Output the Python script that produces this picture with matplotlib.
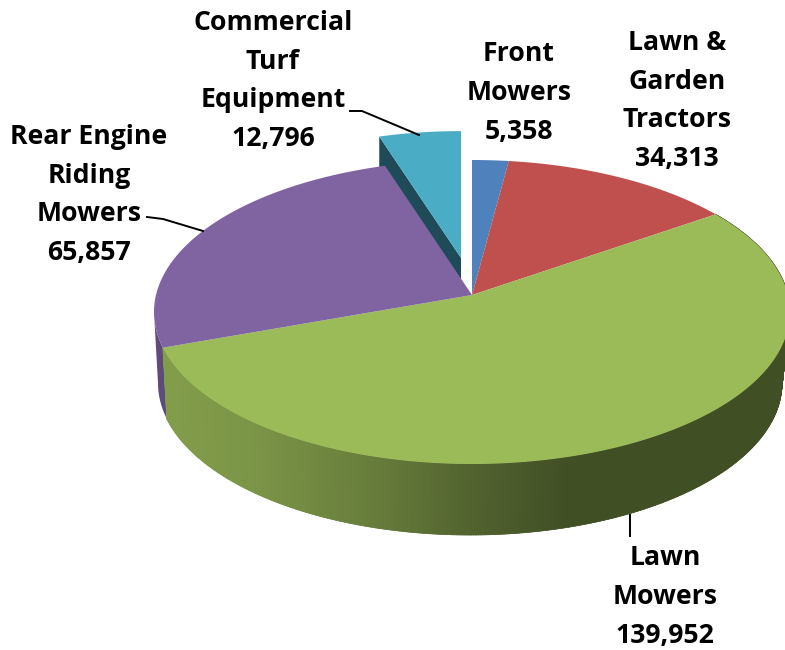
import numpy as np
import matplotlib
matplotlib.use("Agg")
import matplotlib.pyplot as plt
from matplotlib.colors import to_rgb
from matplotlib.patches import Polygon

categories = ["Front\nMowers", "Lawn &\nGarden\nTractors", "Lawn\nMowers",
              "Rear Engine\nRiding\nMowers", "Commercial\nTurf\nEquipment"]
values = [5358, 34313, 139952, 65857, 12796]
top_colors = ["#4f81bd", "#c0504d", "#9bbb59", "#8064a2", "#4bacc6"]

W, H = 785, 650
HUB = (472, 295)
# top face ellipse and the slightly narrower bottom one (perspective)
TOP = (472, 312, 318, 152)
BOT = (470, 383, 312, 152)


def rim_angle(t):
    # true slice angle (clockwise from 12 o'clock) to the ellipse parameter,
    # the hub sits above the ellipse centre
    a = np.radians(t)
    dx, dy = np.sin(a), np.cos(a)
    h = (TOP[1] - HUB[1]) / TOP[3]
    b = h * dy
    s = -b + np.sqrt(b * b - (h * h - 1))
    return np.arctan2(s * dx, h + s * dy)


def on_ellipse(e, th):
    return e[0] + e[2] * np.sin(th), e[1] - e[3] * np.cos(th)


def arc(e, t0, t1, n=120):
    return [on_ellipse(e, rim_angle(t)) for t in np.linspace(t0, t1, n)]


fig = plt.figure(figsize=(W / 100, H / 100), dpi=100)
ax = fig.add_axes([0, 0, 1, 1])
ax.set_xlim(0, W)
ax.set_ylim(H, 0)
ax.axis("off")

fracs = np.array(values) / sum(values) * 360
ends = np.cumsum(fracs)
starts = ends - fracs

# purple rim, only a sliver shows at the far left, stops at the silhouette
ths = np.linspace(rim_angle(starts[3]), -np.pi / 2, 30)
ptop = [on_ellipse(TOP, th) for th in ths]
pbot = [on_ellipse(BOT, th) for th in ths]
ax.add_patch(Polygon(ptop + pbot[::-1], closed=True, fc="#5f4a7c", ec="none", zorder=1))

# green rim, shading follows x
green = np.array(to_rgb(top_colors[2]))
shade_x = [160, 250, 380, 480, 570, 790]
shade_k = [0.84, 0.80, 0.66, 0.52, 0.42, 0.42]
for t0 in np.arange(starts[2], ends[2], 0.4):
    th0, th1 = rim_angle(t0), rim_angle(min(t0 + 0.6, ends[2]))
    x0, y0 = on_ellipse(TOP, th0)
    x1, y1 = on_ellipse(TOP, th1)
    x2, y2 = on_ellipse(BOT, th1)
    x3, y3 = on_ellipse(BOT, th0)
    col = green * np.interp((x0 + x3) / 2, shade_x, shade_k)
    ax.add_patch(Polygon([(x0, y0), (x1, y1), (x2, y2), (x3, y3)], closed=True,
                         fc=col, ec=col, lw=0.5, zorder=2))

# top faces
for i in range(4):
    pts = [HUB] + arc(TOP, starts[i], ends[i])
    ax.add_patch(Polygon(pts, closed=True, fc=top_colors[i], ec="none", zorder=3))

# exploded slice: moved out, a bit smaller because of the perspective
apex = (461, 258)
scale = 0.94
rim = arc(TOP, starts[4], ends[4], 40)
face = [apex] + [(apex[0] + scale * (x - HUB[0]), apex[1] + scale * (y - HUB[1])) for x, y in rim]
corner = face[1]
edge = on_ellipse(TOP, rim_angle(starts[4]))
# dark cut side, its lower edge hides under the purple face
ax.add_patch(Polygon([corner, (corner[0], edge[1] + 2), (edge[0] + 2, edge[1] + 6),
                      (apex[0], apex[1] + 22), apex],
                     closed=True, fc="#1f4a57", ec="none", zorder=2.5))
ax.add_patch(Polygon(face, closed=True, fc=top_colors[4], ec="none", zorder=4))

# labels
font = dict(family="Open Sans", fontsize=19.2, fontweight="bold", ha="center",
            va="center", linespacing=1.63, color="black", zorder=6)
label_pos = [(519, 93), (677, 101), (665, 597), (89, 195), (273, 81)]
for name, v, (lx, ly) in zip(categories, values, label_pos):
    ax.text(lx, ly, f"{name}\n{v:,}", **font)

# leader lines
ax.plot([350, 362, 419], [111, 111, 135], color="black", lw=1.4, zorder=6)
ax.plot([147, 163, 203], [217, 219, 231], color="black", lw=1.4, zorder=6)
ax.plot([630, 630], [515, 536], color="black", lw=1.4, zorder=6)

fig.savefig("out.png", dpi=100)
